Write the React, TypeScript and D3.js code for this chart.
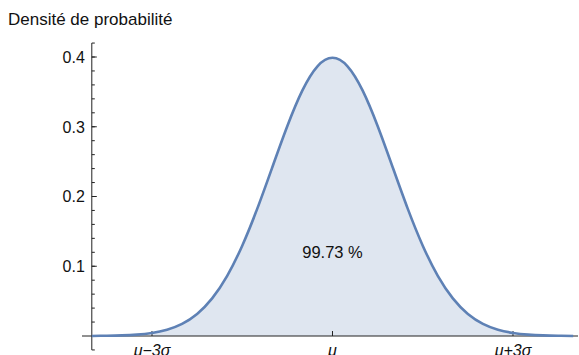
import React from "react";
import * as d3 from "d3";

// Standard normal density, tabulated in units of σ from the mean
const zValues = [
  -4, -3.75, -3.5, -3.25, -3, -2.75, -2.5, -2.25, -2, -1.75, -1.5, -1.25, -1, -0.75, -0.5, -0.25,
  0, 0.25, 0.5, 0.75, 1, 1.25, 1.5, 1.75, 2, 2.25, 2.5, 2.75, 3, 3.25, 3.5, 3.75, 4,
];
const densityValues = [
  0.0001, 0.0004, 0.0009, 0.002, 0.0044, 0.0091, 0.0175, 0.0317, 0.054, 0.0863, 0.1295, 0.1826,
  0.242, 0.3011, 0.3521, 0.3867, 0.3989, 0.3867, 0.3521, 0.3011, 0.242, 0.1826, 0.1295, 0.0863,
  0.054, 0.0317, 0.0175, 0.0091, 0.0044, 0.002, 0.0009, 0.0004, 0.0001,
];
const shadedRange = [-3, 3];
const shadedLabel = "99.73 %";
const xTickValues = [-3, 0, 3];
const xTickLabels = ["μ−3σ", "μ", "μ+3σ"];
const yMajorTicks = [0.1, 0.2, 0.3, 0.4];
const yMinorTicks = d3.range(-0.02, 0.4201, 0.02);
const yTitle = "Densité de probabilité";

const W = 579;
const H = 355;
const FONT = "'Liberation Sans', Arial, Helvetica, sans-serif";
const LINE = "#5E81B5";
const FILL = "#dfe6f0";
const AXIS = "#222";

export default function App() {
  const x = d3.scaleLinear().domain([-4, 4.1]).range([91.8, 579.2]);
  const y = d3.scaleLinear().domain([0, 0.4]).range([336, 57]);

  const pts = zValues.map((z, i) => ({ z, d: densityValues[i] }));
  const line = d3
    .line<{ z: number; d: number }>()
    .x((p) => x(p.z))
    .y((p) => y(p.d))
    .curve(d3.curveNatural);
  const area = d3
    .area<{ z: number; d: number }>()
    .x((p) => x(p.z))
    .y0(y(0))
    .y1((p) => y(p.d))
    .curve(d3.curveNatural);
  const shaded = pts.filter((p) => p.z >= shadedRange[0] && p.z <= shadedRange[1]);

  const axisX = x(-4);
  const yTop = y(0.42);
  const yBottom = y(-0.02);

  return (
    <svg
      width={W}
      height={H}
      style={{ position: "absolute", left: 0, top: 0, display: "block", background: "#fff" }}
      fontFamily={FONT}
    >
      <path d={area(shaded) ?? ""} fill={FILL} />

      {/* x axis */}
      <line x1={82} x2={578} y1={y(0)} y2={y(0)} stroke={AXIS} strokeWidth={1} />
      {xTickValues.map((v, i) => (
        <g key={v}>
          <line x1={x(v)} x2={x(v)} y1={y(0)} y2={y(0) - 5} stroke={AXIS} strokeWidth={1} />
          <text
            x={x(v)}
            y={356}
            textAnchor="middle"
            fontSize={16}
            fontStyle="italic"
            fill="#111"
          >
            {xTickLabels[i]}
          </text>
        </g>
      ))}

      {/* y axis */}
      <line x1={axisX} x2={axisX} y1={yTop} y2={yBottom} stroke={AXIS} strokeWidth={1} />
      {yMinorTicks.map((v) => (
        <line key={v} x1={axisX} x2={axisX + 3} y1={y(v)} y2={y(v)} stroke={AXIS} strokeWidth={1} />
      ))}
      {yMajorTicks.map((v) => (
        <g key={v}>
          <line x1={axisX} x2={axisX + 5} y1={y(v)} y2={y(v)} stroke={AXIS} strokeWidth={1} />
          <text
            x={axisX - 7}
            y={y(v)}
            dy="0.36em"
            textAnchor="end"
            fontSize={16}
            fill="#111"
          >
            {d3.format(".1f")(v)}
          </text>
        </g>
      ))}

      <path d={line(pts) ?? ""} fill="none" stroke={LINE} strokeWidth={2.6} strokeLinejoin="round" />

      <text x={x(0)} y={258} textAnchor="middle" fontSize={16.5} fill="#111">
        {shadedLabel}
      </text>

      <text x={8} y={25} fontSize={17} fill="#111">
        {yTitle}
      </text>
    </svg>
  );
}
